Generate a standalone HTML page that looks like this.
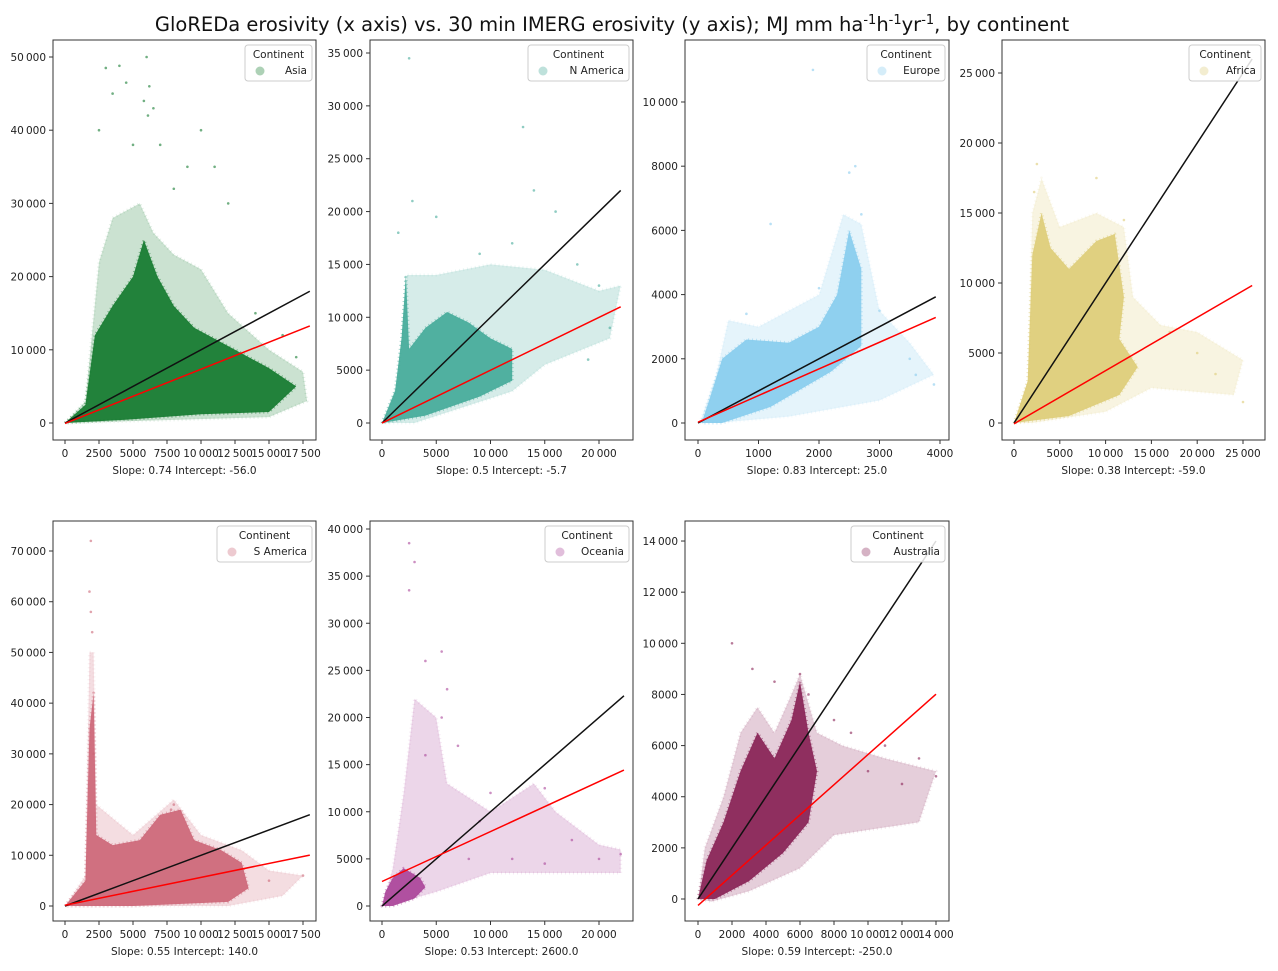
<!DOCTYPE html>
<html><head><meta charset="utf-8"><style>
body{margin:0;background:#fff;}
svg{display:block;font-family:"DejaVu Sans","Liberation Sans",sans-serif;}
</style></head><body>
<svg id="fig" width="1278" height="971" viewBox="0 0 1278 971">
<text x="612" y="31" font-size="19.5" text-anchor="middle" fill="#111">GloREDa erosivity (x axis) vs. 30 min IMERG erosivity (y axis); MJ mm ha<tspan font-size="13" dy="-7">-1</tspan><tspan dy="7">h</tspan><tspan font-size="13" dy="-7">-1</tspan><tspan dy="7">yr</tspan><tspan font-size="13" dy="-7">-1</tspan><tspan dy="7">, by continent</tspan></text>
</svg>
<script>
const continents=["Asia","N America","Europe","Africa","S America","Oceania","Australia"];
const colors=["#137a2e","#44aa99","#88ccee","#ddcc77","#cc6677","#aa4499","#882255"];
const slopes=[0.74,0.5,0.83,0.38,0.55,0.53,0.59];
const intercepts=[-56.0,-5.7,25.0,-59.0,140.0,2600.0,-250.0];
const lineEnds=[18000,22000,3930,26000,18000,22300,14000];
const xTicks=[[0,2500,5000,7500,10000,12500,15000,17500],[0,5000,10000,15000,20000],[0,1000,2000,3000,4000],[0,5000,10000,15000,20000,25000],[0,2500,5000,7500,10000,12500,15000,17500],[0,5000,10000,15000,20000],[0,2000,4000,6000,8000,10000,12000,14000]];
const yTicks=[[0,10000,20000,30000,40000,50000],[0,5000,10000,15000,20000,25000,30000,35000],[0,2000,4000,6000,8000,10000],[0,5000,10000,15000,20000,25000],[0,10000,20000,30000,40000,50000,60000,70000],[0,5000,10000,15000,20000,25000,30000,35000,40000],[0,2000,4000,6000,8000,10000,12000,14000]];
const xDomains=[[-882,18455],[-1106,23134],[-215,4149],[-1310,27402],[-882,18455],[-1106,23134],[-765,14765]];
const yDomains=[[-2322,52322],[-1608,36230],[-530,11931],[-1214,27357],[-2958,75917],[-1591,40849],[-860,14783]];
const sparseClouds=[
[[0,0],[1500,3000],[2500,22000],[3500,28000],[5500,30000],[6500,26000],[8000,23000],[10000,21000],[12000,15000],[15000,10000],[17500,7000],[17800,3000],[15000,800],[0,0]],
[[0,0],[1500,4000],[2300,14000],[5000,14000],[10000,15000],[15000,14500],[20000,12500],[22000,13000],[21000,8000],[15000,5500],[12000,3000],[3000,0]],
[[30,0],[300,1500],[500,3200],[1000,3000],[2000,4000],[2400,6500],[2700,6200],[3000,3500],[3500,2500],[3900,1500],[3000,700],[1500,200],[300,0]],
[[0,0],[1500,3000],[2000,15000],[3000,17500],[5000,14000],[9000,15000],[12000,14000],[13000,9000],[16000,7000],[20000,6500],[25000,4500],[24000,2000],[15000,2500],[10000,800],[2000,0]],
[[0,0],[1500,6000],[1800,50000],[2100,50000],[2300,20000],[5000,14000],[8000,21000],[10000,14000],[13000,11000],[15000,7000],[17500,6000],[16000,2000],[12000,0]],
[[0,0],[1000,4000],[2000,12000],[3000,22000],[5000,20000],[6000,13000],[10000,10000],[14000,13000],[16000,10000],[20000,6500],[22000,6000],[22000,3500],[10000,3500],[5000,1500],[500,0]],
[[0,0],[400,2000],[1500,4000],[2500,6500],[3500,7500],[4500,6500],[5500,8000],[6000,8800],[7000,6500],[8500,6000],[11000,5500],[14000,5000],[13000,3000],[8000,2500],[6000,1200],[3000,300],[800,-100]]];
const denseClouds=[
[[0,0],[1500,2500],[2200,12000],[3500,16000],[5000,20000],[5800,25000],[6800,20000],[8000,16000],[9500,13000],[12500,10000],[15000,7500],[17000,5000],[15000,1500],[10000,1200],[5000,500],[0,0]],
[[0,0],[1200,3000],[1800,8000],[2200,14000],[2500,7000],[4000,9000],[6000,10500],[8000,9500],[10000,8000],[12000,7000],[12000,4000],[9000,2500],[4000,700],[0,0]],
[[60,0],[200,800],[400,2000],[800,2600],[1500,2500],[2000,3000],[2300,4000],[2500,6000],[2700,4800],[2700,2400],[2200,1600],[1200,500],[400,0]],
[[0,0],[1500,3000],[2000,12000],[3000,15000],[4000,12500],[6000,11000],[9000,13000],[11000,13500],[12000,9000],[11500,6000],[13500,4000],[11500,2000],[6000,500],[0,0]],
[[0,0],[1500,5000],[1800,35000],[2100,42000],[2300,14000],[3500,12000],[5500,13000],[7000,18000],[8500,19000],[9500,13000],[11500,11000],[13000,8500],[13500,3500],[12000,800],[5000,0],[0,0]],
[[0,0],[300,1500],[1000,3000],[2000,4000],[3500,3000],[4000,2000],[3000,800],[1000,0]],
[[0,0],[500,1500],[1500,3000],[2500,5000],[3500,6500],[4500,5500],[5500,7000],[6000,8500],[6500,6500],[7000,5000],[6500,3000],[5000,1800],[3000,700],[1000,0]]];
const outliers=[
[[3000,48500],[6000,50000],[4000,48800],[6200,46000],[10000,40000],[5800,44000],[3500,45000],[6500,43000],[7000,38000],[2500,40000],[9000,35000],[11000,35000],[12000,30000],[8000,32000],[5000,38000],[14000,15000],[16000,12000],[17000,9000],[4500,46500],[6100,42000]],
[[2500,34500],[13000,28000],[2800,21000],[1500,18000],[14000,22000],[16000,20000],[5000,19500],[18000,15000],[20000,13000],[21000,9000],[19000,6000],[9000,16000],[12000,17000]],
[[1900,11000],[2500,7800],[800,3400],[2000,4200],[3000,3500],[3500,2000],[3900,1200],[2600,8000],[1200,6200],[2700,6500],[3600,1500]],
[[2500,18500],[9000,17500],[12000,14500],[25000,1500],[2200,16500],[20000,5000],[17000,6500],[22000,3500]],
[[1900,72000],[1800,62000],[1900,58000],[2100,30000],[8000,20000],[15000,5000],[17500,6000],[2000,54000],[7800,19000]],
[[2500,38500],[3000,36500],[2500,33500],[5500,27000],[4000,26000],[6000,23000],[5500,20000],[7000,17000],[10000,12000],[15000,12500],[17500,7000],[20000,5000],[22000,5500],[4000,16000],[12000,5000],[8000,5000],[15000,4500],[9000,9000]],
[[2000,10000],[3200,9000],[6500,8000],[6000,8800],[8000,7000],[9000,6500],[10000,5000],[12000,4500],[13000,5500],[14000,4800],[11000,6000],[4500,8500]]];
const boxes=[[53,40,316,440],[370,40,633,440],[685,40,949,440],[1002,40,1265,440],[53,521,316,921],[370,521,633,921],[685,521,949,921]];
const legendW=[67,101,78,72,95,84,94];
const NS="http://www.w3.org/2000/svg";
const fig=document.getElementById("fig");
function mk(tag,attrs,parent){const e=document.createElementNS(NS,tag);for(const k in attrs)e.setAttribute(k,attrs[k]);(parent||fig).appendChild(e);return e;}
function fmt(v){const s=String(v);return s.length>4?s.slice(0,s.length-3)+"\u2009"+s.slice(-3):s;}
continents.forEach((name,i)=>{
  const [x0,y0,x1,y1]=boxes[i];const xd=xDomains[i],yd=yDomains[i];
  const sx=v=>x0+(v-xd[0])/(xd[1]-xd[0])*(x1-x0);
  const sy=v=>y1-(v-yd[0])/(yd[1]-yd[0])*(y1-y0);
  const g=mk("g",{});
  
  
  const clip=mk("clipPath",{id:"c"+i},g);mk("rect",{x:x0,y:y0,width:x1-x0,height:y1-y0},clip);
  const pg=mk("g",{"clip-path":"url(#c"+i+")"},g);
  const poly=(pts,op)=>mk("path",{d:"M"+pts.map(q=>sx(q[0]).toFixed(1)+","+sy(q[1]).toFixed(1)).join("L")+"Z",fill:colors[i],"fill-opacity":op,stroke:colors[i],"stroke-opacity":op*0.5,"stroke-width":3,"stroke-dasharray":"1 3","stroke-linejoin":"round"},pg);
  const sc=poly(sparseClouds[i],0.22);
  
  
  const dc=poly(denseClouds[i],0.92);
  
  
  outliers[i].forEach(p=>{const c=mk("circle",{cx:sx(p[0]),cy:sy(p[1]),r:1.3,fill:colors[i],"fill-opacity":0.6},pg);
    
    });
  const bl=mk("line",{x1:sx(0),y1:sy(0),x2:sx(lineEnds[i]),y2:sy(lineEnds[i]),stroke:"#111","stroke-width":1.5},pg);
  
  
  const rl=mk("line",{x1:sx(0),y1:sy(intercepts[i]),x2:sx(lineEnds[i]),y2:sy(lineEnds[i]*slopes[i]+intercepts[i]),stroke:"#ff0000","stroke-width":1.5},pg);
  
  
  const fr=mk("rect",{x:x0,y:y0,width:x1-x0,height:y1-y0,fill:"none",stroke:"#333","stroke-width":1},g);
  
  
  xTicks[i].forEach(t=>{mk("line",{x1:sx(t),x2:sx(t),y1:y1,y2:y1+4,stroke:"#333"},g);
    const tx=mk("text",{x:sx(t),y:y1+17,"font-size":10.5,"text-anchor":"middle",fill:"#222"},g);tx.textContent=fmt(t);
    
    });
  yTicks[i].forEach(t=>{mk("line",{x1:x0-4,x2:x0,y1:sy(t),y2:sy(t),stroke:"#333"},g);
    const tx=mk("text",{x:x0-7,y:sy(t)+4,"font-size":10.5,"text-anchor":"end",fill:"#222"},g);tx.textContent=fmt(t);
    
    });
  const cap=mk("text",{x:(x0+x1)/2,y:y1+34,"font-size":10.5,"text-anchor":"middle",fill:"#222"},g);
  cap.textContent="Slope: "+slopes[i]+" Intercept: "+intercepts[i].toFixed(1);
  
  
  const lw=legendW[i],lx=x1-lw-4,ly=y0+5;
  const lg=mk("g",{},g);
  
  
  mk("rect",{x:lx,y:ly,width:lw,height:36,rx:3,fill:"#fff","fill-opacity":0.85,stroke:"#ccc"},lg);
  const lt=mk("text",{x:lx+lw/2,y:ly+13,"font-size":10.5,"text-anchor":"middle",fill:"#222"},lg);lt.textContent="Continent";
  
  
  const lm=mk("circle",{cx:lx+15,cy:ly+26,r:4.5,fill:colors[i],"fill-opacity":0.35},lg);
  
  
  const ll=mk("text",{x:lx+lw-5,y:ly+29,"font-size":10.5,"text-anchor":"end",fill:"#222"},lg);ll.textContent=name;
  
  
});
</script>
</body></html>
